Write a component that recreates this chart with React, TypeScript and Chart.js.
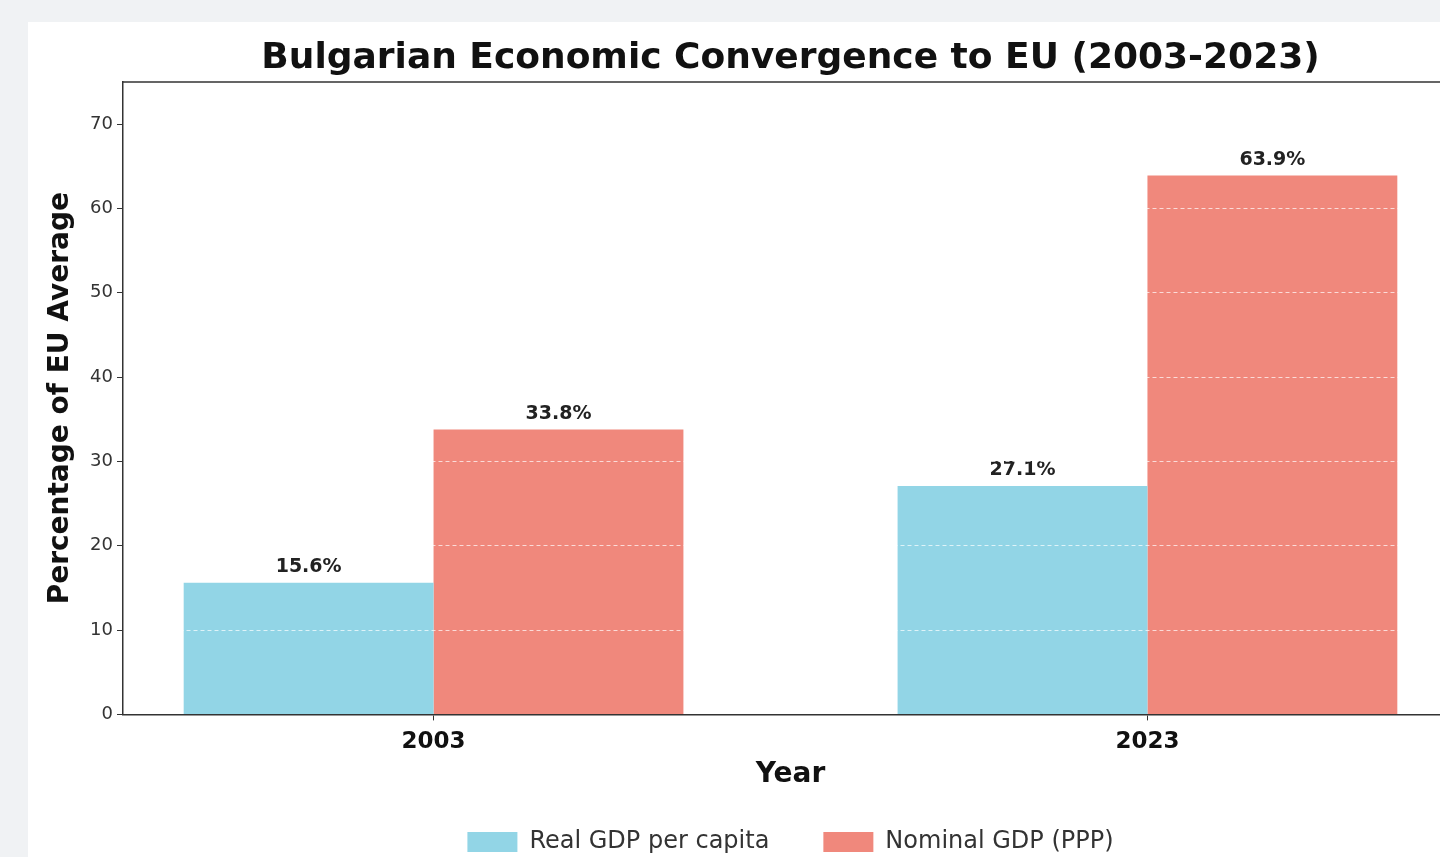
import React, { useEffect, useRef } from "react";
import { Chart, registerables } from "chart.js";
Chart.register(...registerables);

const years = ["2003", "2023"];
const yearPositions = [0, 1];
const realGdp = [15.6, 27.1];
const nominalGdp = [33.8, 63.9];
const yTicks = [0, 10, 20, 30, 40, 50, 60, 70];
const seriesLabels = ["Real GDP per capita", "Nominal GDP (PPP)"];
const titleText = "Bulgarian Economic Convergence to EU (2003-2023)";

const FONT = "'DejaVu Sans', sans-serif";

export default function App() {
  const ref = useRef<HTMLCanvasElement>(null);

  useEffect(() => {
    if (!ref.current) return;

    const valueLabels = {
      id: "valueLabels",
      afterDatasetsDraw(chart: any) {
        const ctx = chart.ctx;
        ctx.save();
        ctx.font = `bold 19px ${FONT}`;
        ctx.fillStyle = "#222";
        ctx.textAlign = "center";
        ctx.textBaseline = "bottom";
        chart.data.datasets.forEach((ds: any, i: number) => {
          const meta = chart.getDatasetMeta(i);
          meta.data.forEach((el: any, j: number) => {
            const v = ds.data[j].y;
            ctx.fillText(v.toFixed(1) + "%", el.x, el.y - 6);
          });
        });
        ctx.restore();
      },
    };

    const frame = {
      id: "frame",
      afterDraw(chart: any) {
        const { ctx, chartArea } = chart;
        ctx.save();
        ctx.strokeStyle = "#333";
        ctx.lineWidth = 1.5;
        ctx.beginPath();
        ctx.moveTo(chartArea.left, chartArea.top);
        ctx.lineTo(chartArea.right, chartArea.top);
        ctx.lineTo(chartArea.right, chartArea.bottom);
        ctx.stroke();
        ctx.restore();
      },
    };

    const chart = new Chart(ref.current, {
      type: "bar",
      data: {
        datasets: [
          {
            label: seriesLabels[0],
            data: yearPositions.map((x, i) => ({ x, y: realGdp[i] })),
            backgroundColor: "#92d5e6",
            categoryPercentage: 0.7,
            barPercentage: 1.0,
          },
          {
            label: seriesLabels[1],
            data: yearPositions.map((x, i) => ({ x, y: nominalGdp[i] })),
            backgroundColor: "#f0887c",
            categoryPercentage: 0.7,
            barPercentage: 1.0,
          },
        ],
      },
      options: {
        animation: false,
        responsive: false,
        maintainAspectRatio: false,
        layout: { padding: { left: 0, right: 30, top: 0, bottom: 18 } },
        plugins: {
          title: {
            display: true,
            text: titleText,
            fullSize: false,
            color: "#111",
            font: { family: FONT, size: 36, weight: "bold" },
            padding: { top: 15.4, bottom: 1.4 },
          },
          legend: {
            position: "bottom",
            fullSize: false,
            labels: {
              font: { family: FONT, size: 24 },
              color: "#333",
              boxWidth: 50,
              boxHeight: 20,
              padding: 54,
            },
          },
          tooltip: { enabled: false },
        },
        scales: {
          x: {
            type: "linear",
            min: -0.435,
            max: 1.435,
            offset: false,
            afterBuildTicks: (s: any) => {
              s.ticks = yearPositions.map((v) => ({ value: v }));
            },
            ticks: {
              callback: (v: any) => {
                const i = yearPositions.indexOf(v);
                return i >= 0 ? years[i] : "";
              },
              font: { family: FONT, size: 23, weight: "bold" },
              color: "#111",
              padding: 8,
              autoSkip: false,
              maxRotation: 0,
            },
            grid: {
              offset: false,
              drawOnChartArea: false,
              drawTicks: true,
              tickLength: 6,
              tickColor: "#333",
              z: 1,
            },
            border: { color: "#333", width: 1.5, z: 1 },
            title: {
              display: true,
              text: "Year",
              color: "#111",
              font: { family: FONT, size: 28, weight: "bold" },
              padding: { top: -5.8, bottom: -15.8 },
            },
          },
          y: {
            min: 0,
            max: 75,
            afterBuildTicks: (s: any) => {
              s.ticks = yTicks.map((v) => ({ value: v }));
            },
            afterFit: (s: any) => {
              s.width = 95;
            },
            ticks: {
              font: { family: FONT, size: 18 },
              color: "#333",
              padding: 4,
            },
            grid: {
              color: (c: any) =>
                c.tick && c.tick.value === 0 ? "rgba(0,0,0,0)" : "rgba(255,255,255,0.7)",
              lineWidth: 1,
              tickColor: "#333",
              tickLength: 6,
              z: 1,
            },
            border: { color: "#333", width: 1.5, dash: [4, 3], z: 1 },
            title: {
              display: true,
              text: "Percentage of EU Average",
              color: "#111",
              font: { family: FONT, size: 28, weight: "bold" },
              padding: { top: 16, bottom: 0 },
            },
          },
        },
      },
      plugins: [valueLabels, frame],
    } as any);

    return () => chart.destroy();
  }, []);

  return (
    <div
      style={{
        position: "fixed",
        left: 0,
        top: 0,
        width: "100vw",
        height: "100vh",
        overflow: "hidden",
        background: "#f0f2f4",
      }}
    >
      <div
        style={{
          position: "absolute",
          left: 28,
          top: 22,
          width: 1480,
          height: 900,
          background: "#ffffff",
        }}
      >
        <canvas ref={ref} width={1460} height={860} style={{ display: "block" }} />
      </div>
    </div>
  );
}
